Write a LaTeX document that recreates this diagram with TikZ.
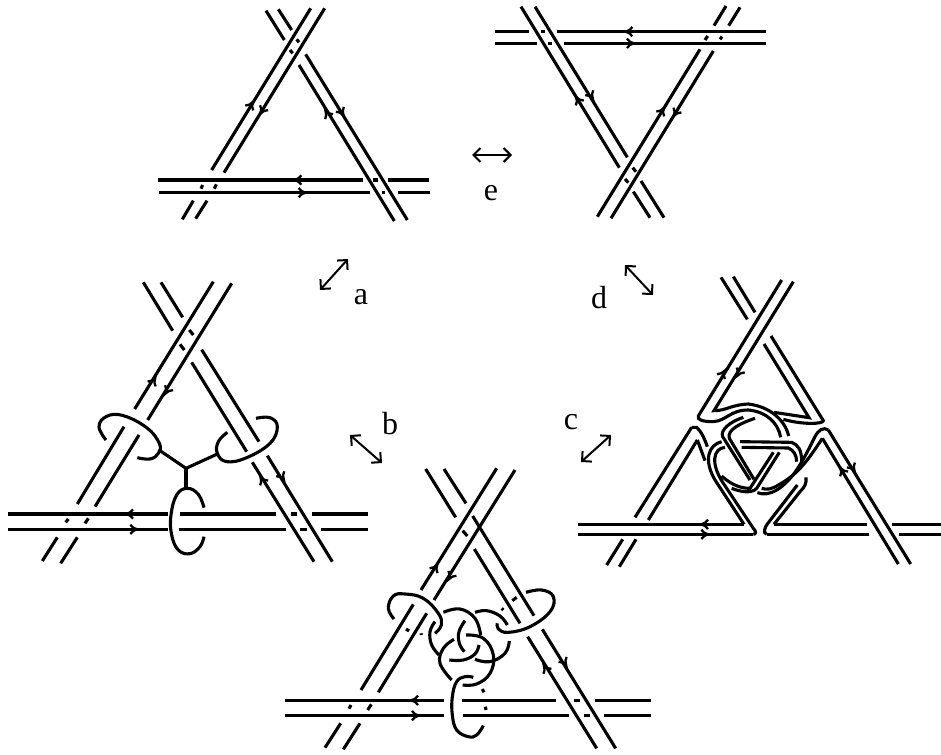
\documentclass[tikz,border=0pt]{standalone}
\usepackage{fontspec}
\setmainfont{Liberation Serif}
\usetikzlibrary{arrows.meta}
\tikzset{
  kn/.style={line width=3.1pt},
  barb/.style={line width=2.3pt},
  dbl/.style={line width=2pt,{Straight Barb[length=7pt,width=14pt]}-{Straight Barb[length=7pt,width=14pt]}},
  lab/.style={font=\fontsize{32}{34}\selectfont,inner sep=0pt},
  zoomed/.style={shift={#1},x=0.33333pt,y=-0.33333pt}
}
\newcommand\sg[4]{\draw[kn] (#1,#2) -- (#3,#4);}
\newcommand\ah[3]{\draw[barb,shift={(#1,#2)},rotate=#3] (-14,-14) .. controls (-7,-5) .. (7,0) .. controls (-7,5) .. (-14,14);}
\newcommand\sm[1]{\draw[kn] plot[smooth,tension=0.7] coordinates {#1};}
\begin{document}
\begin{tikzpicture}[x=1pt,y=-1pt]
\useasboundingbox (0,0) rectangle (941,754);
% --- panel 1 (top left)
\begin{scope}[zoomed={(150,0)}]
\sg{185}{510}{482}{25}\sg{222}{518}{524}{25}
\sg{97}{658}{130}{602}\sg{137}{656}{171}{602}
\sg{153}{566}{158}{555}\sg{193}{566}{199}{553}
\sg{25}{540}{638}{540}\sg{670}{540}{683}{540}\sg{715}{540}{836}{540}
\sg{28}{578}{660}{578}\sg{695}{578}{705}{578}\sg{745}{578}{840}{578}
\sg{447}{195}{733}{663}\sg{467}{163}{772}{660}
\sg{348}{32}{403}{120}\sg{385}{28}{425}{90}
\sg{440}{118}{447}{127}\sg{420}{150}{428}{160}
\ah{305}{312}{58.5}\ah{335}{335}{238.5}\ah{530}{338}{121.5}\ah{577}{340}{-58.5}\ah{440}{540}{180}\ah{460}{578}{0}
\end{scope}
% --- panel 2 (top right)
\begin{scope}[zoomed={(490,0)}]
\sg{15}{95}{118}{95}\sg{152}{95}{165}{95}\sg{200}{95}{827}{95}
\sg{15}{130}{140}{130}\sg{175}{130}{187}{130}\sg{222}{130}{827}{130}
\sg{93}{20}{388}{503}\sg{135}{20}{412}{472}
\sg{430}{575}{480}{653}\sg{453}{543}{522}{653}
\sg{405}{537}{415}{548}\sg{428}{503}{438}{515}
\sg{322}{650}{630}{148}\sg{363}{655}{670}{153}
\sg{672}{77}{708}{18}\sg{716}{77}{750}{22}
\sg{645}{120}{653}{108}\sg{690}{118}{696}{110}
\ah{413}{95}{180}\ah{425}{130}{0}\ah{262}{297}{121.5}\ah{305}{290}{-58.5}\ah{518}{330}{58.5}\ah{555}{342}{238.5}
\end{scope}
% --- panel 3 (left)
\begin{scope}[zoomed={(0,275)}]
\sg{25}{717}{503}{717}\sg{540}{717}{828}{717}\sg{873}{717}{890}{717}\sg{935}{717}{1103}{717}
\sg{25}{763}{503}{763}\sg{537}{763}{857}{763}\sg{900}{763}{920}{763}\sg{963}{763}{1103}{763}
\sg{232}{687}{372}{455}\sg{404}{402}{640}{20}
\sg{285}{695}{417}{480}\sg{443}{435}{695}{25}
\sg{127}{858}{172}{787}\sg{182}{865}{232}{787}
\sg{197}{742}{205}{732}\sg{255}{745}{265}{730}
\sg{430}{22}{518}{167}\sg{483}{22}{548}{127}
\sg{540}{208}{553}{225}\sg{568}{165}{580}{180}
\sg{575}{262}{740}{530}\sg{757}{562}{942}{860}
\sg{605}{224}{777}{500}\sg{802}{542}{997}{860}
\sm{(318,495) (297,455) (320,424) (370,422) (440,458) (478,505) (475,535) (450,552) (412,548)}
\sm{(768,430) (810,428) (832,455) (810,505) (740,548) (680,560) (652,535) (655,500) (682,472)}
\sm{(612,698) (595,658) (562,640) (530,660) (513,720) (515,780) (535,825) (570,836) (600,815) (612,785)}
\coordinate (y0) at (558,580);
\draw[kn] (480,527) -- (y0); \draw[kn] (650,538) -- (y0); \draw[kn] (y0) -- (558,640);
\ah{462}{315}{58.5}\ah{500}{350}{238.5}\ah{785}{612}{121.5}\ah{848}{608}{-58.5}\ah{385}{717}{180}\ah{405}{763}{0}
\end{scope}
% --- panel 4 (right)
\begin{scope}[zoomed={(570,270)}]
\sg{453}{22}{532}{148}\sg{490}{20}{555}{127}
\sg{110}{885}{158}{808}\sg{148}{890}{198}{808}
\sg{195}{742}{365}{472}\sg{235}{750}{382}{510}
\sg{965}{763}{1113}{763}\sg{988}{793}{1113}{793}
\sg{757}{505}{985}{882}\sg{775}{480}{1022}{882}
\sg{25}{763}{522}{763}\sg{25}{793}{550}{793}
\sg{612}{763}{890}{763}\sg{590}{793}{897}{793}
\ah{460}{308}{58.5}\ah{505}{312}{238.5}\ah{815}{600}{121.5}\ah{850}{597}{-58.5}\ah{400}{763}{180}\ah{408}{793}{0}
\draw[kn] (635,30) -- (385,438) .. controls (380,450) and (400,455) .. (430,455) .. controls (470,452) and (480,420) .. (535,420) .. controls (590,425) and (625,460) .. (632,502);
\draw[kn] (670,35) -- (432,422) .. controls (470,422) and (480,405) .. (535,402) .. controls (600,410) and (645,450) .. (656,498);
\draw[kn] (582,222) -- (717,443) -- (612,427);
\draw[kn] (603,198) -- (760,452) .. controls (760,462) and (700,465) .. (640,448);
\draw[kn] (555,445) .. controls (510,460) and (470,480) .. (478,505) -- (552,628);
\draw[kn] (520,442) .. controls (480,455) and (450,480) .. (458,500) -- (540,630);
\draw[kn] (510,515) -- (665,517) .. controls (685,525) and (695,540) .. (695,575);
\draw[kn] (515,532) -- (655,534) .. controls (670,540) and (680,555) .. (680,575);
\draw[kn] (455,515) .. controls (415,525) and (400,570) .. (435,630) -- (522,763);
\draw[kn] (465,532) .. controls (430,535) and (420,580) .. (460,640) -- (550,775) .. controls (560,785) and (558,793) .. (550,793);
\draw[kn] (590,793) .. controls (578,790) and (585,770) .. (592,762) -- (682,645);
\draw[kn] (612,763) -- (690,665) .. controls (705,650) and (710,640) .. (708,622);
\draw[kn] (365,472) -- (380,472) .. controls (395,485) and (405,510) .. (412,530);
\draw[kn] (382,510) -- (405,572);
\draw[kn] (775,480) .. controls (760,470) and (745,480) .. (735,500) .. controls (700,570) and (670,630) .. (620,660) .. controls (600,672) and (580,675) .. (562,668);
\draw[kn] (757,505) .. controls (720,560) and (690,610) .. (625,645) .. controls (605,658) and (590,660) .. (575,655);
\draw[kn] (455,618) .. controls (490,650) and (520,655) .. (540,655) -- (610,547);
\draw[kn] (485,655) .. controls (510,665) and (545,672) .. (560,655) -- (628,547);
\end{scope}
% --- panel 5 (bottom)
\begin{scope}[zoomed={(280,460)}]
\sg{15}{721}{493}{721}\sg{547}{721}{828}{721}\sg{883}{721}{900}{721}\sg{945}{721}{1113}{721}
\sg{15}{767}{493}{767}\sg{548}{767}{867}{767}\sg{912}{767}{930}{767}\sg{973}{767}{1113}{767}
\sg{243}{690}{400}{433}\sg{423}{390}{650}{25}
\sg{295}{697}{440}{460}\sg{462}{420}{705}{30}
\sg{135}{863}{182}{790}\sg{190}{868}{240}{790}
\sg{207}{746}{213}{735}\sg{263}{750}{274}{733}
\sg{437}{27}{527}{172}\sg{492}{27}{558}{130}
\sg{548}{212}{562}{228}
\sg{578}{168}{762}{467}\sg{787}{508}{1007}{865}
\sg{583}{267}{720}{490}\sg{743}{530}{950}{865}
\ah{468}{320}{58.5}\ah{510}{352}{238.5}\ah{795}{622}{121.5}\ah{855}{610}{-58.5}\ah{400}{721}{180}\ah{410}{767}{0}
\sm{(610,797) (590,825) (565,830) (530,810) (517,765) (517,710) (530,665) (555,650) (580,652)}
\end{scope}
\begin{scope}[zoomed={(380,580)}]
\sm{(42,117) (25,85) (40,48) (75,42) (130,55) (175,100) (184,135) (165,160)}
\sm{(165,125) (150,155) (155,195) (177,225)}
\sm{(190,97) (240,87) (285,115) (302,165)}
\sm{(255,122) (237,155) (238,190) (253,215)}
\sm{(222,178) (190,205) (180,250) (215,300)}
\sm{(258,165) (310,175) (340,225) (330,280) (290,312) (248,315)}
\sm{(208,240) (250,240) (285,222) (297,195)}
\sm{(285,97) (320,92) (360,108) (382,135)}
\sm{(285,238) (330,245) (375,220) (388,183)}
\sm{(438,37) (485,30) (520,50) (510,95) (450,140) (385,157) (355,147) (352,130)}
\sg{78}{147}{87}{153}\sg{123}{160}{124}{165}\sg{365}{85}{370}{90}\sg{397}{62}{410}{52}
\sg{307}{327}{312}{337}\sg{316}{380}{318}{390}
\end{scope}
% --- double arrows and labels
\coordinate (e1) at (472,155); \coordinate (e2) at (512,155);
\draw[dbl] (e1) -- (e2);
\coordinate (a1) at (320,290); \coordinate (a2) at (348,259);
\draw[dbl] (a1) -- (a2);
\coordinate (d1) at (625,265); \coordinate (d2) at (653,295);
\draw[dbl] (d1) -- (d2);
\coordinate (b1) at (350,435); \coordinate (b2) at (382,463);
\draw[dbl] (b1) -- (b2);
\coordinate (c1) at (581,462); \coordinate (c2) at (611,435);
\draw[dbl] (c1) -- (c2);
\node[lab] (le) at (491,193) {e};
\node[lab] (la) at (361,297) {a};
\node[lab] (ld) at (599,298) {d};
\node[lab] (lb) at (390,424) {b};
\node[lab] (lc) at (571,422) {c};
\end{tikzpicture}
\end{document}
